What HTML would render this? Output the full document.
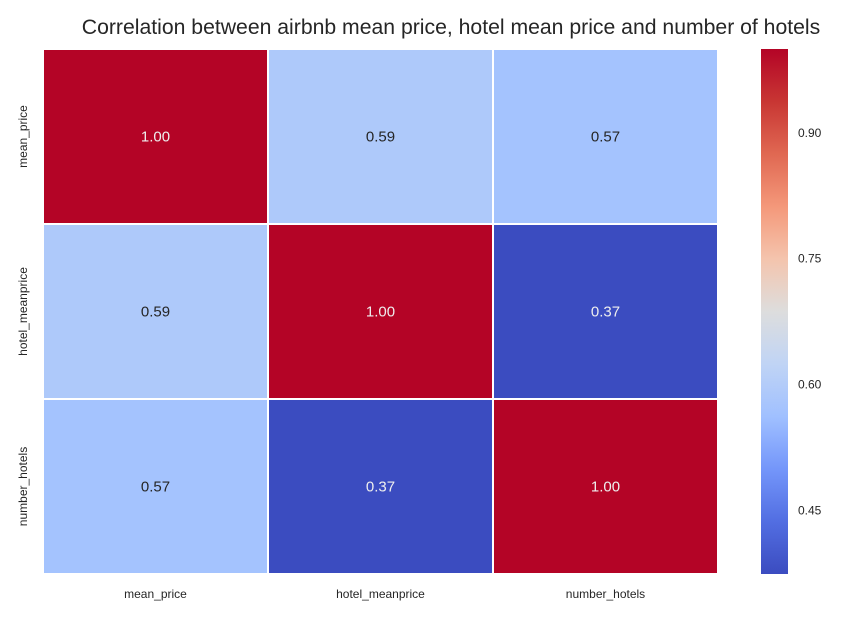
<!DOCTYPE html>
<html><head><meta charset="utf-8">
<style>
body{margin:0;background:#fff;font-family:"Liberation Sans",Arial,sans-serif;}
svg{display:block;}
</style></head>
<body>
<svg id="chart" width="843" height="629">
<text x="451" y="34" text-anchor="middle" font-size="21.2" fill="#262626">Correlation between airbnb mean price, hotel mean price and number of hotels</text>
<defs><linearGradient id="cbgrad" x1="0" y1="1" x2="0" y2="0"></linearGradient></defs>
<g id="cells"></g>
<g id="cbar"></g>
</svg>
<script>
const categories = ["mean_price","hotel_meanprice","number_hotels"];
const row0 = [1.00, 0.59, 0.57];
const row1 = [0.59, 1.00, 0.37];
const row2 = [0.57, 0.37, 1.00];
const cbTicks = [0.45, 0.60, 0.75, 0.90];
const rows = [row0,row1,row2];
const vmin = 0.374, vmax = 1.0;
const ns = "http://www.w3.org/2000/svg";
const cw2 = [[0,[59,76,192]],[0.1,[82,110,226]],[0.2,[116,150,250]],[0.3,[160,192,255]],[0.4,[192,212,245]],[0.5,[221,221,221]],[0.6,[244,196,173]],[0.7,[244,152,122]],[0.8,[224,104,82]],[0.9,[200,54,51]],[1,[180,4,38]]];
function cmap(t){t=Math.max(0,Math.min(1,t));for(let i=1;i<cw2.length;i++){if(t<=cw2[i][0]){const a=cw2[i-1],b=cw2[i];const f=(t-a[0])/(b[0]-a[0]);const c=a[1].map((v,k)=>Math.round(v+(b[1][k]-v)*f));return `rgb(${c.join(',')})`;}}return 'rgb(180,4,38)';}
const X0=43,Y0=49,W=675,H=525;
const xs = i => X0 + i*W/categories.length;
const ys = i => Y0 + i*H/categories.length;
const cwid=W/categories.length, chei=H/categories.length;
const g=document.getElementById('cells');
rows.forEach((r,ri)=>r.forEach((v,ci)=>{
  const t=(v-vmin)/(vmax-vmin);
  const rc=document.createElementNS(ns,'rect');
  rc.setAttribute('x',xs(ci));rc.setAttribute('y',ys(ri));rc.setAttribute('width',cwid);rc.setAttribute('height',chei);
  rc.setAttribute('fill',cmap(t));rc.setAttribute('stroke','#fff');rc.setAttribute('stroke-width','2');
  
  
  g.appendChild(rc);
  const tx=document.createElementNS(ns,'text');
  tx.setAttribute('x',xs(ci)+cwid/2);tx.setAttribute('y',ys(ri)+chei/2+5);tx.setAttribute('text-anchor','middle');tx.setAttribute('font-size','15');
  tx.setAttribute('fill',(t>0.8||t<0.2)?'#eeeeee':'#262626');
  tx.textContent=v.toFixed(2);
  
  
  g.appendChild(tx);
}));
categories.forEach((c,i)=>{
  const tx=document.createElementNS(ns,'text');
  tx.setAttribute('x',xs(i)+cwid/2);tx.setAttribute('y',598);tx.setAttribute('text-anchor','middle');tx.setAttribute('font-size','12');tx.setAttribute('fill','#262626');
  tx.textContent=c;
  
  
  g.appendChild(tx);
  const ty=document.createElementNS(ns,'text');
  const cy=ys(i)+chei/2;
  ty.setAttribute('x',27);ty.setAttribute('y',cy);ty.setAttribute('text-anchor','middle');ty.setAttribute('font-size','12');ty.setAttribute('fill','#262626');
  ty.setAttribute('transform',`rotate(-90 27 ${cy})`);
  ty.textContent=c;
  
  
  g.appendChild(ty);
});
const grad=document.getElementById('cbgrad');
for(let i=0;i<=20;i++){const s=document.createElementNS(ns,'stop');s.setAttribute('offset',i/20);s.setAttribute('stop-color',cmap(i/20));grad.appendChild(s);}
const cb=document.getElementById('cbar');
const CBX=761,CBW=27;
const cy = v => Y0 + H*(vmax-v)/(vmax-vmin);
const cr=document.createElementNS(ns,'rect');
cr.setAttribute('x',CBX);cr.setAttribute('y',Y0);cr.setAttribute('width',CBW);cr.setAttribute('height',H);cr.setAttribute('fill','url(#cbgrad)');


cb.appendChild(cr);
cbTicks.forEach(v=>{
  const tx=document.createElementNS(ns,'text');
  tx.setAttribute('x',798);tx.setAttribute('y',cy(v)+4);tx.setAttribute('font-size','12');tx.setAttribute('fill','#262626');
  tx.textContent=v.toFixed(2);
  
  
  cb.appendChild(tx);
});
</script>
</body></html>
